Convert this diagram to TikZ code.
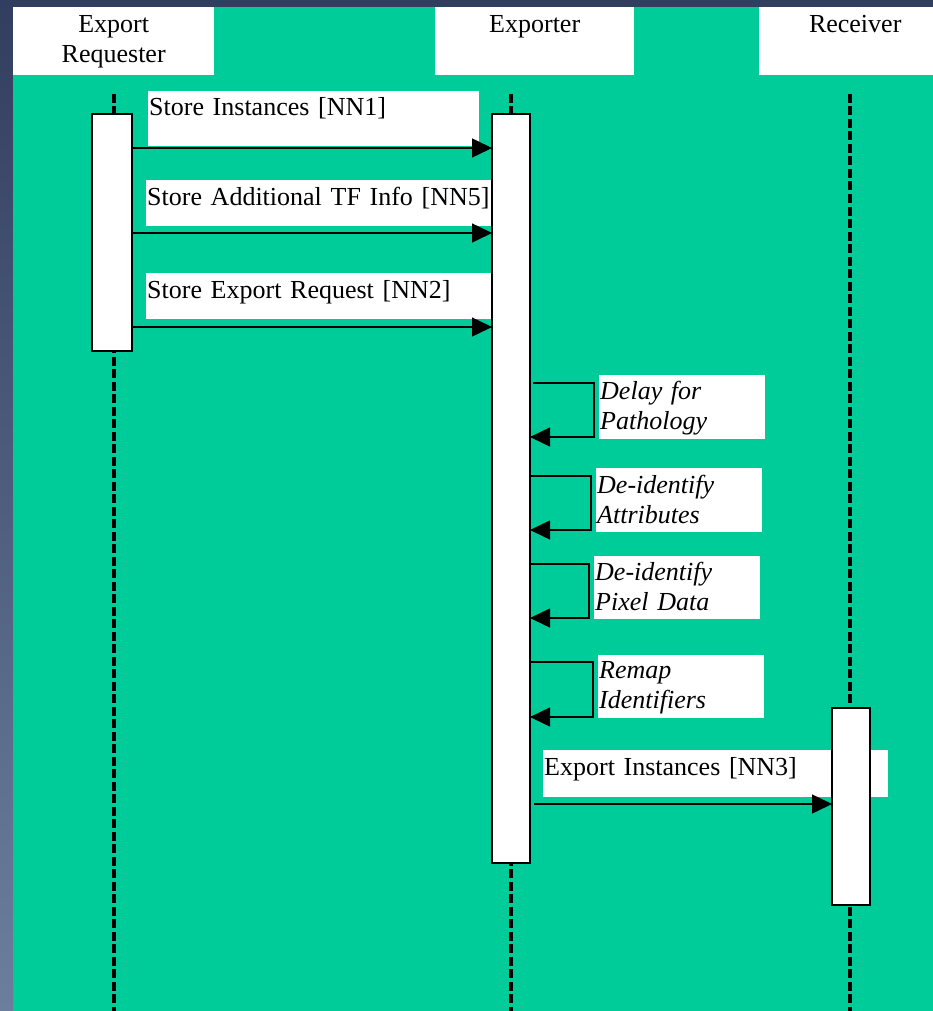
\documentclass[tikz,border=0pt]{standalone}
\usepackage{xcolor}
\usepackage{fontspec}
\setmainfont{Liberation Serif}
\usepackage{tikz}
\usetikzlibrary{arrows.meta}
\definecolor{slidegreen}{RGB}{0,204,153}
\definecolor{slidenavy}{RGB}{50,62,96}
\definecolor{slidegrey}{RGB}{108,126,158}
\newcommand{\diagfont}{\fontsize{26}{30}\selectfont}

\begin{document}
\begin{tikzpicture}[
			     x=1pt, y=-1pt,
			     font=\diagfont,
			     headbox/.style={fill=white, anchor=north west, inner sep=0pt, align=center, text height=25pt},
			     msgbox/.style={fill=white, anchor=north west, inner xsep=1pt, inner ysep=0pt, align=left},
			     notebox/.style={msgbox, font=\diagfont\itshape},
			     activation/.style={draw, fill=white, line width=1.5pt, anchor=north west, inner sep=0pt, outer sep=0pt},
			     lifeline/.style={line width=3.5pt, dash pattern=on 9pt off 3.5pt},
			     call/.style={line width=1.5pt, -{Triangle[length=20pt,width=19pt]}}
			     ]
\useasboundingbox (0,0) rectangle (933,1011);
\clip (0,0) rectangle (933,1011);
\shade[top color=slidenavy, bottom color=slidegrey] (0,0) rectangle (933,1011);
\fill[slidegreen] (13,7) rectangle (933,1011);

% participants
\node[headbox, text width=201pt, text depth=43pt] (requester) at (13,7) {Export\\Requester};
\node[headbox, text width=199pt, text depth=43pt] (exporter) at (435,7) {Exporter};
\node[headbox, text width=192pt, text depth=43pt] (receiver) at (759,7) {Receiver};

\coordinate (reqtop) at (114,94);
\coordinate (reqend) at (114,1011);
\coordinate (exptop) at (511,94);
\coordinate (expend) at (511,1011);
\coordinate (rectop) at (850,94);
\coordinate (recend) at (850,1011);
\draw[lifeline] (reqtop) -- (reqend);
\draw[lifeline] (exptop) -- (expend);
\draw[lifeline] (rectop) -- (recend);

% message labels
\node[msgbox, text width=329pt, text height=24pt, text depth=31pt] (nn1) at (148,91) {Store Instances [NN1]};
\node[msgbox, text width=344pt, text height=25pt, text depth=21pt] (nn5) at (146,180) {Store Additional TF Info [NN5]};
\node[msgbox, text width=344pt, text height=25pt, text depth=21pt] (nn2) at (146,273) {Store Export Request [NN2]};
\node[msgbox, text width=343pt, text height=25pt, text depth=22pt] (nn3) at (543,750) {Export Instances [NN3]};
\node[notebox, text width=164pt, text height=24pt, text depth=40pt] (delay) at (599,375) {Delay for\\Pathology};
\node[notebox, text width=164pt, text height=25pt, text depth=39pt] (deattr) at (596,468) {De-identify\\Attributes};
\node[notebox, text width=164pt, text height=24pt, text depth=39pt] (depixel) at (594,556) {De-identify\\Pixel Data};
\node[notebox, text width=164pt, text height=23pt, text depth=40pt] (remap) at (598,655) {Remap\\Identifiers};

% activations
\node[activation, minimum width=40pt, minimum height=237pt] (reqact) at (92,114) {};
\node[activation, minimum width=38pt, minimum height=749pt] (expact) at (492,114) {};
\node[activation, minimum width=38pt, minimum height=197pt] (recact) at (832,708) {};

% messages
\coordinate (m1) at (300,148);
\coordinate (m5) at (300,233);
\coordinate (m2) at (300,327);
\coordinate (m3) at (680,804);
\path (reqact.east |- m1) edge[call] (expact.west |- m1);
\path (reqact.east |- m5) edge[call] (expact.west |- m5);
\path (reqact.east |- m2) edge[call] (expact.west |- m2);
\draw[call] ([xshift=4pt]expact.east |- m3) -- (recact.west |- m3);

% self calls
\coordinate (d1a) at (594,383);
\coordinate (d1b) at (594,437);
\coordinate (d2a) at (591,476);
\coordinate (d2b) at (591,530);
\coordinate (d3a) at (589,564);
\coordinate (d3b) at (589,618);
\coordinate (d4a) at (593,662);
\coordinate (d4b) at (593,717);
\draw[call] ([xshift=3pt]expact.east |- d1a) -- (d1a) -- (d1b) -- (expact.east |- d1b);
\draw[call] (expact.east |- d2a) -- (d2a) -- (d2b) -- (expact.east |- d2b);
\draw[call] (expact.east |- d3a) -- (d3a) -- (d3b) -- (expact.east |- d3b);
\draw[call] (expact.east |- d4a) -- (d4a) -- (d4b) -- (expact.east |- d4b);
\end{tikzpicture}
\end{document}
